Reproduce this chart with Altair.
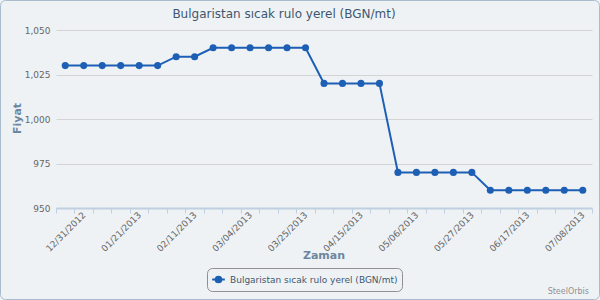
import altair as alt
import pandas as pd

dates = ["12/24/2012", "12/31/2012", "01/07/2013", "01/14/2013", "01/21/2013", "01/28/2013",
         "02/04/2013", "02/11/2013", "02/18/2013", "02/25/2013", "03/04/2013", "03/11/2013",
         "03/18/2013", "03/25/2013", "04/01/2013", "04/08/2013", "04/15/2013", "04/22/2013",
         "04/29/2013", "05/06/2013", "05/13/2013", "05/20/2013", "05/27/2013", "06/03/2013",
         "06/10/2013", "06/17/2013", "06/24/2013", "07/01/2013", "07/08/2013"]
prices = [1030, 1030, 1030, 1030, 1030, 1030,
          1035, 1035,
          1040, 1040, 1040, 1040, 1040, 1040,
          1020, 1020, 1020, 1020,
          970, 970, 970, 970, 970,
          960, 960, 960, 960, 960, 960]
shown_labels = ["12/31/2012", "01/21/2013", "02/11/2013", "03/04/2013", "03/25/2013",
                "04/15/2013", "05/06/2013", "05/27/2013", "06/17/2013", "07/08/2013"]
series_name = "Bulgaristan sıcak rulo yerel (BGN/mt)"
x_title = "Zaman"
y_title = "Fiyat"
y_ticks = [950, 975, 1000, 1025, 1050]

df = pd.DataFrame({"Zaman": dates, "Fiyat": prices, "seri": [series_name] * len(dates)})

FONT = "DejaVu Sans"
LINE = "#1c5fb5"

label_list = "[" + ",".join("'%s'" % d for d in shown_labels) + "]"

x_enc = alt.X("Zaman:O", sort=dates,
              scale=alt.Scale(type="band", paddingInner=0, paddingOuter=0),
              axis=alt.Axis(title=None, labelAngle=-45, labelAlign="right", labelBaseline="middle",
                            labelExpr="indexof(%s, datum.value) >= 0 ? datum.value : ''" % label_list,
                            labelOverlap=False, labelFont=FONT, labelFontSize=9, labelColor="#666666",
                            labelPadding=0, tickBand="extent", tickSize=5, tickColor="#c0d0e0",
                            domainColor="#c0d0e0", domainWidth=2, grid=False))
y_enc = alt.Y("Fiyat:Q",
              scale=alt.Scale(domain=[950, 1050], nice=False, zero=False),
              axis=alt.Axis(title=y_title, values=y_ticks, format=",.0f", tickSize=0, domain=False,
                            labelFont=FONT, labelFontSize=9, labelColor="#666666", labelPadding=6,
                            gridColor="#d4d4d4", gridWidth=1,
                            titleFont=FONT, titleFontSize=11, titleFontWeight="bold",
                            titleColor="#6d869f", titleX=-39, titleY=88, titleAngle=-90,
                            titleBaseline="middle", titleAlign="center"))

color_enc = alt.Color("seri:N", scale=alt.Scale(range=[LINE]),
                      legend=alt.Legend(title=None, orient="none", legendX=151, legendY=238,
                                        direction="horizontal",
                                        strokeColor="#909090", cornerRadius=5, padding=4,
                                        labelLimit=400,
                                        symbolType="M-1,0 L1,0 M-0.45,0 A0.45,0.45 0 1,1 0.45,0 A0.45,0.45 0 1,1 -0.45,0",
                                        symbolSize=160, symbolStrokeWidth=2,
                                        symbolFillColor=LINE, symbolStrokeColor=LINE,
                                        labelFont=FONT, labelFontSize=9, labelColor="#3e576f"))

base = alt.Chart(df)
line = base.mark_line(strokeWidth=2, color=LINE).encode(x=x_enc, y=y_enc, color=color_enc)
pts = base.mark_point(filled=True, size=50, opacity=1, color=LINE).encode(
    x=alt.X("Zaman:O", sort=dates), y="Fiyat:Q", color=alt.Color("seri:N", legend=None))

frame = alt.Chart(pd.DataFrame({"k": [0]})).mark_rect(
    fill=None, stroke="#a9bccd", strokeWidth=1, cornerRadius=5).encode(
    x=alt.value(-55.5), x2=alt.value(543.5), y=alt.value(-29.5), y2=alt.value(269.5))

title_txt = alt.Chart(pd.DataFrame({"t": [series_name]})).mark_text(
    align="center", baseline="middle", font=FONT, fontSize=12, color="#3e576f").encode(
    text="t:N", x=alt.value(228), y=alt.value(-16))

xtitle_txt = alt.Chart(pd.DataFrame({"t": [x_title]})).mark_text(
    align="center", baseline="middle", font=FONT, fontSize=11, fontWeight="bold",
    color="#6d869f").encode(text="t:N", x=alt.value(268), y=alt.value(226))

credit = alt.Chart(pd.DataFrame({"t": ["SteelOrbis"]})).mark_text(
    align="right", baseline="middle", font=FONT, fontSize=8, color="#909090").encode(
    text="t:N", x=alt.value(533), y=alt.value(262))

chart = alt.layer(frame, line, pts, title_txt, xtitle_txt, credit).properties(
    width=536, height=178,
    padding={"left": 56, "top": 30, "right": 8, "bottom": 92},
    autosize=alt.AutoSizeParams(type="none"),
    background="#eef2f5",
).configure_view(stroke=None)

chart.save("out.html", embed_options={"renderer": "svg", "actions": False})
